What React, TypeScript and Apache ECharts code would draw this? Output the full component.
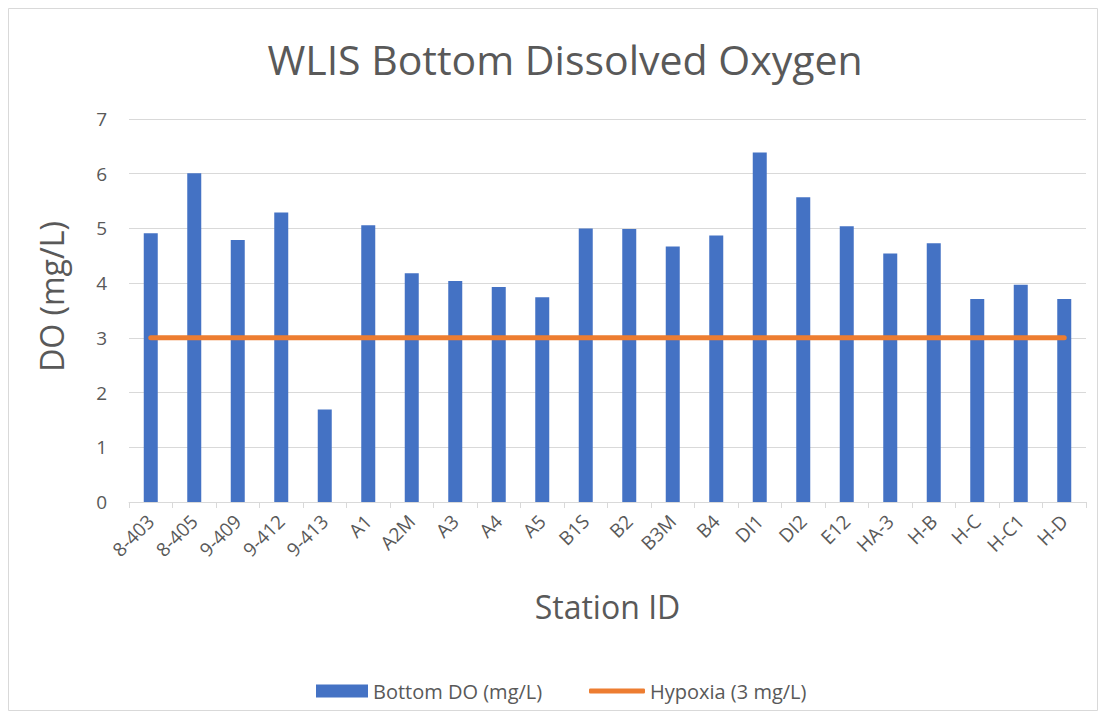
import React, { useEffect, useRef } from 'react';
import * as echarts from 'echarts';

const stations = ['8-403', '8-405', '9-409', '9-412', '9-413', 'A1', 'A2M', 'A3', 'A4', 'A5', 'B1S', 'B2', 'B3M', 'B4', 'DI1', 'DI2', 'E12', 'HA-3', 'H-B', 'H-C', 'H-C1', 'H-D'];
const bottomDO = [4.91, 6.01, 4.79, 5.29, 1.69, 5.06, 4.18, 4.04, 3.93, 3.74, 5.0, 4.99, 4.67, 4.87, 6.39, 5.57, 5.04, 4.54, 4.73, 3.71, 3.97, 3.71];
const hypoxia = [3, 3, 3, 3, 3, 3, 3, 3, 3, 3, 3, 3, 3, 3, 3, 3, 3, 3, 3, 3, 3, 3];
const titleText = 'WLIS Bottom Dissolved Oxygen';
const seriesNames = ['Bottom DO (mg/L)', 'Hypoxia (3 mg/L)'];

const FONT = '"Open Sans", "Noto Sans", sans-serif';
const TXT = '#595959';

export default function App() {
  const ref = useRef<HTMLDivElement>(null);
  useEffect(() => {
    if (!ref.current) return;
    const chart = echarts.init(ref.current, undefined, { renderer: 'svg' });
    chart.setOption({
      animation: false,
      backgroundColor: '#ffffff',
      textStyle: { fontFamily: FONT, color: TXT },
      title: {
        text: titleText,
        left: 560,
        top: 33,
        textAlign: 'center',
        textStyle: { fontFamily: FONT, fontSize: 41, fontWeight: 'normal', color: TXT },
      },
      graphic: [
        {
          type: 'rect',
          shape: { x: 8.5, y: 8.5, width: 1089, height: 702 },
          style: { fill: 'none', stroke: '#d9d9d9', lineWidth: 1 },
          silent: true,
          z: -10,
        },
      ],
      grid: { left: 129, right: 16, top: 119, bottom: 217, containLabel: false },
      legend: [
        {
          left: 311,
          top: 676,
          itemWidth: 52,
          itemHeight: 13,
          textStyle: { fontFamily: FONT, fontSize: 20, color: TXT },
          data: [{ name: seriesNames[0], icon: 'rect' }],
        },
        {
          left: 584,
          top: 676,
          itemWidth: 56,
          itemHeight: 5,
          textStyle: { fontFamily: FONT, fontSize: 20, color: TXT },
          data: [{ name: seriesNames[1], icon: 'roundRect' }],
        },
      ],
      xAxis: {
        type: 'category',
        data: stations,
        boundaryGap: true,
        name: 'Station ID',
        nameLocation: 'middle',
        nameGap: 88,
        nameTextStyle: { fontFamily: FONT, fontSize: 32, color: TXT },
        axisLine: { lineStyle: { color: '#d9d9d9', width: 1 } },
        axisTick: { show: true, length: 6, lineStyle: { color: '#d9d9d9' } },
        axisLabel: { rotate: 45, interval: 0, fontSize: 19, color: TXT, fontFamily: FONT, margin: 16 },
      },
      yAxis: {
        type: 'value',
        min: 0,
        max: 7,
        interval: 1,
        name: 'DO (mg/L)',
        nameLocation: 'middle',
        nameRotate: 90,
        nameGap: 62,
        nameTextStyle: { fontFamily: FONT, fontSize: 32, color: TXT, padding: [0, 0, 0, 28] },
        axisLine: { show: false },
        axisTick: { show: false },
        axisLabel: { fontSize: 19, color: TXT, fontFamily: FONT, margin: 22 },
        splitLine: { lineStyle: { color: '#d9d9d9', width: 1 } },
      },
      series: [
        {
          name: seriesNames[0],
          type: 'bar',
          data: bottomDO,
          barWidth: 14,
          itemStyle: { color: '#4472C4' },
        },
        {
          name: seriesNames[1],
          type: 'line',
          data: hypoxia,
          symbol: 'none',
          showSymbol: false,
          lineStyle: { color: '#ED7D31', width: 5, cap: 'round' },
          itemStyle: { color: '#ED7D31' },
          z: 5,
        },
      ],
    });
    return () => chart.dispose();
  }, []);
  return (
    <div
      ref={ref}
      style={{ position: 'fixed', left: 0, top: 0, width: 1102, height: 719, background: '#fff' }}
    />
  );
}
